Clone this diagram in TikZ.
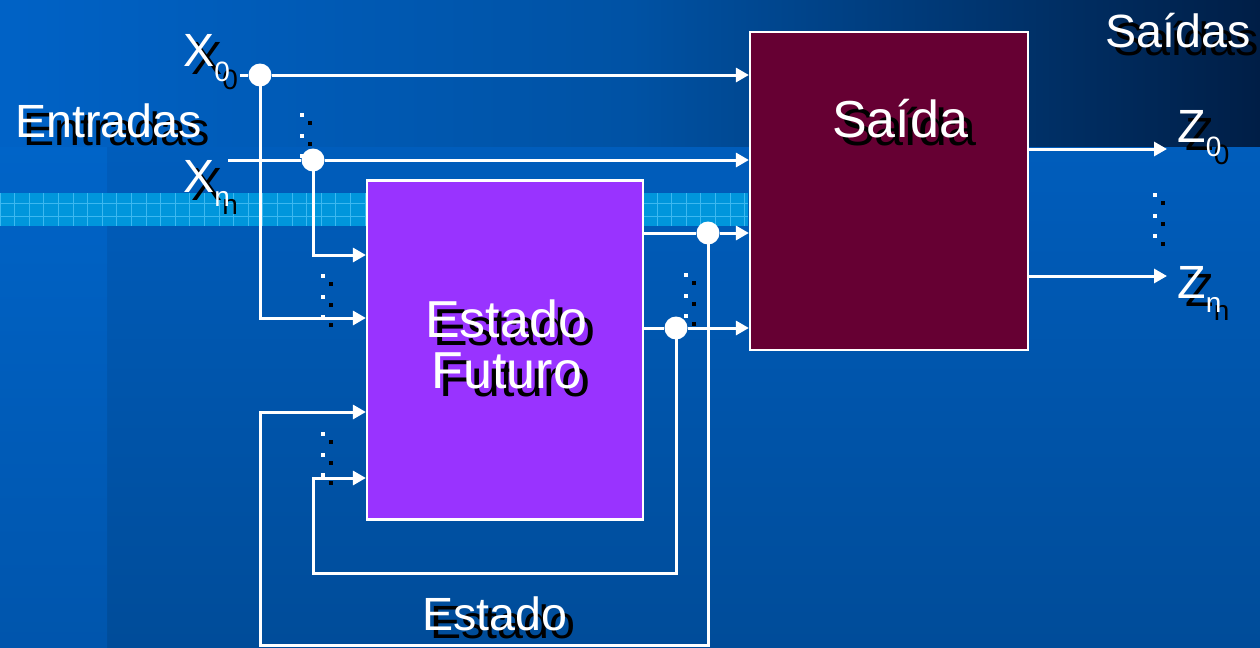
\documentclass[tikz,border=0pt]{standalone}
\usepackage{fontspec}
\setmainfont{Liberation Sans}
\usetikzlibrary{arrows.meta,calc}
\definecolor{bgtop}{HTML}{0062C6}
\definecolor{bgbot}{HTML}{004C99}
\definecolor{striptop}{HTML}{0064C8}
\definecolor{stripbot}{HTML}{0055AC}
\definecolor{bandmid}{HTML}{0052A4}
\definecolor{bandright}{HTML}{001E46}
\definecolor{cyanband}{HTML}{0096DC}
\definecolor{cyangrid}{HTML}{3CB8F0}
\definecolor{saidafill}{HTML}{660033}
\definecolor{estadofill}{HTML}{9933FF}
\newcommand{\subsc}[1]{\raisebox{-7.25pt}{\fontsize{14}{14}\selectfont #1}}
\newcommand{\shtxt}[6]{%
  \node[#5, text=black, anchor=#4] at (#2+8,#3+8) {#6};
  \node[#5, text=white, anchor=#4] (#1) at (#2,#3) {#6};}
\newcommand{\dotgrp}[2]{%
  \foreach \k in {0,1,2} {
    \fill[black] (#1+8-2,#2+8+20.5*\k-2) rectangle ++(4,4);
    \fill[white] (#1-2,#2+20.5*\k-2) rectangle ++(4,4);
  }}
\tikzset{
  bigtxt/.style={font=\fontsize{23.3}{28}\selectfont, inner sep=0pt},
  boxtxt/.style={font=\fontsize{26}{31}\selectfont, inner sep=0pt},
  wire/.style={draw=white, line width=1.5pt},
  conn/.style={wire, -{Triangle[length=6.5pt,width=7pt]}},
  jdot/.style={circle, fill=white, minimum size=11.5pt, inner sep=0pt},
  blockbox/.style={draw=white, line width=1.1pt, inner sep=0pt},
}
\begin{document}
\begin{tikzpicture}[x=0.5pt,y=-0.5pt]
\useasboundingbox (0,0) rectangle (1260,648);
% background
\shade[top color=bgtop, bottom color=bgbot] (0,0) rectangle (1260,648);
\shade[top color=striptop, bottom color=stripbot] (0,146) rectangle (107,648);
\shade[left color=bgtop, right color=bandright, middle color=bandmid] (0,0) rectangle (1260,146);
\fill[cyanband] (0,193) rectangle (748,226);
\foreach \gx in {0,14.6,...,748} \draw[cyangrid, line width=0.35pt] (\gx,193) -- (\gx,226);
\foreach \gy in {203,216} \draw[cyangrid, line width=0.35pt] (0,\gy) -- (748,\gy);
% blocks
\node[blockbox, fill=saidafill, minimum width=139pt, minimum height=159pt] (S) at (889,191) {};
\node[blockbox, fill=estadofill, minimum width=138pt, minimum height=169.5pt] (E) at (505,350) {};
% ellipsis dots
\dotgrp{302}{115}
\dotgrp{323}{276}
\dotgrp{323}{434}
\dotgrp{686}{275}
\dotgrp{1155}{195}
% junctions and corner points
\node[jdot] (j0) at (260,75) {};
\node[jdot] (jn) at (313,160) {};
\node[jdot] (ja) at (708,233) {};
\node[jdot] (jb) at (676,328) {};
\coordinate (x0start) at (240,75);
\coordinate (xnstart) at (228,160);
\coordinate (c1) at (260,318);
\coordinate (c2) at (313,255);
\coordinate (c3) at (708,645);
\coordinate (c4) at (260,645);
\coordinate (c5) at (260,412);
\coordinate (c6) at (676,573);
\coordinate (c7) at (313,573);
\coordinate (c8) at (313,478);
\coordinate (z0end) at (1167,149);
\coordinate (znend) at (1167,276);
% connectors
\draw[wire] (x0start) -- (j0);
\draw[conn] (j0) -- (j0 -| S.west);
\draw[conn] (j0.center) |- (E.west |- c1);
\draw[wire] (xnstart) -- (jn);
\draw[conn] (jn) -- (jn -| S.west);
\draw[conn] (jn.center) |- (E.west |- c2);
\draw[wire] (E.east |- ja) -- (ja);
\draw[conn] (ja) -- (ja -| S.west);
\draw[conn] (ja.center) -- (c3) -- (c4) -- (c5) -- (E.west |- c5);
\draw[wire] (E.east |- jb) -- (jb);
\draw[conn] (jb) -- (jb -| S.west);
\draw[conn] (jb.center) -- (c6) -- (c7) -- (c8) -- (E.west |- c8);
\draw[conn] (S.east |- z0end) -- (z0end);
\draw[conn] (S.east |- znend) -- (znend);
% texts
\shtxt{entradas}{15}{137}{base west}{bigtxt}{Entradas}
\shtxt{x0}{183}{67}{base west}{bigtxt}{X\subsc{0}}
\shtxt{xn}{183}{192}{base west}{bigtxt}{X\subsc{n}}
\shtxt{saidas}{1105}{47}{base west}{bigtxt}{Saídas}
\shtxt{z0}{1177}{142}{base west}{bigtxt}{Z\subsc{0}}
\shtxt{zn}{1177}{298}{base west}{bigtxt}{Z\subsc{n}}
\shtxt{saidalbl}{900}{137}{base}{boxtxt}{Saída}
\shtxt{efa}{506}{337}{base}{boxtxt}{Estado}
\shtxt{efb}{507}{388}{base}{boxtxt}{Futuro}
\shtxt{estado}{495}{630}{base}{bigtxt}{Estado}
\end{tikzpicture}
\end{document}
